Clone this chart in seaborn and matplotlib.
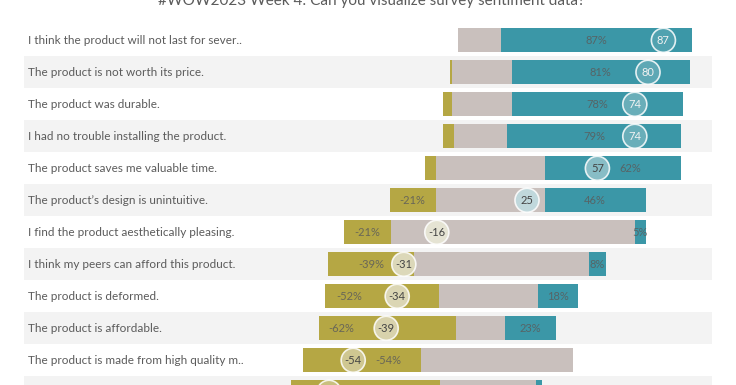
import numpy as np
import pandas as pd
import matplotlib
matplotlib.use('Agg')
import matplotlib.pyplot as plt
import matplotlib.transforms as mtransforms
from matplotlib.colors import LinearSegmentedColormap
import seaborn as sns

# survey data (share of answers in %)
questions = [
    "I think the product will not last for sever..",
    "The product is not worth its price.",
    "The product was durable.",
    "I had no trouble installing the product.",
    "The product saves me valuable time.",
    "The product\u2019s design is unintuitive.",
    "I find the product aesthetically pleasing.",
    "I think my peers can afford this product.",
    "The product is deformed.",
    "The product is affordable.",
    "The product is made from high quality m..",
    "The product is easy to use.",
]
negative = [0, 1, 4, 5, 5, 21, 21, 39, 52, 62, 54, 68]
neutral = [13, 18, 18, 16, 33, 33, 74, 53, 30, 15, 46, 29]
positive = [87, 81, 78, 79, 62, 46, 5, 8, 18, 23, 0, 3]

title = "#WOW2023 Week 4: Can you visualize survey sentiment data?"

df = pd.DataFrame({'question': questions, 'neg': negative, 'neu': neutral, 'pos': positive})
df['score'] = df['pos'] - df['neg']
# left side: half of neutral + negative, right side: neutral + positive
df['left_outer'] = -(df['neg'] + df['neu'] / 2)
df['left_inner'] = -df['neu'] / 2
df['right_outer'] = df['neu'] + df['pos']
df['right_inner'] = df['neu']

OLIVE = '#b5a744'
GREY = '#c9c0bd'
TEAL = '#3b97a7'
BAND = '#f3f3f3'
TXT = '#5b5b5b'

sns.set_theme(style='white')
plt.rcParams['font.family'] = ['Lato', 'DejaVu Sans']

fig = plt.figure(figsize=(7.36, 3.85), dpi=100)
ax = fig.add_axes([0, 0, 1, 1])

# zero sits at x=472px, 2.2px per percent point
px0, ppu = 472, 2.2
ax.set_xlim((0 - px0) / ppu, (736 - px0) / ppu)

# alternating row bands
for i in range(len(df)):
    if i % 2 == 1:
        ax.axhspan(i - 0.5, i + 0.5, xmin=24 / 736, xmax=712 / 736, color=BAND, zorder=0, lw=0)

bw = 0.76
bar_kw = dict(y='question', width=bw, orient='h', ax=ax, saturation=1, linewidth=0, edgecolor='none', zorder=2)
sns.barplot(data=df, x='right_outer', color=TEAL, **bar_kw)
sns.barplot(data=df, x='right_inner', color=GREY, **bar_kw)
sns.barplot(data=df, x='left_outer', color=OLIVE, **bar_kw)
sns.barplot(data=df, x='left_inner', color=GREY, **bar_kw)

ypos = np.arange(len(df))
# row 0 centre at 40.3px, pitch 32px
ybottom = (385 - 40.3) / 32
visible = ypos + 0.3 < ybottom

# score circles
cmap = LinearSegmentedColormap.from_list('sent', [OLIVE, '#eeeeee', TEAL])
fills = [cmap((s + 100) / 200) for s in df['score']]
ax.scatter(df['score'], ypos, s=300, c=fills, edgecolors=(1, 1, 1, 0.85), linewidths=1.2, zorder=4)
for y, s in zip(ypos[visible], df['score'][visible]):
    ax.text(s, y, f"{s}", ha='center', va='center', fontsize=8,
            color='#f2f2f2' if s > 60 else '#444444', zorder=5)

# percentage labels (nudged where they would sit under a circle)
neg_nudge = {8: -15, 9: -21, 10: 12}
pos_nudge = {4: 8}
for i, r in df[visible].iterrows():
    if r['pos'] >= 5:
        x = r['neu'] + r['pos'] / 2 + pos_nudge.get(i, 0)
        ax.text(x, i, f"{r['pos']}%", ha='center', va='center', fontsize=8, color=TXT, alpha=0.85, zorder=3)
    if r['neg'] >= 10:
        x = -(r['neu'] / 2 + r['neg'] / 2) + neg_nudge.get(i, 0)
        ax.text(x, i, f"-{r['neg']}%", ha='center', va='center', fontsize=8, color=TXT, alpha=0.85, zorder=3)

# question labels
trans = mtransforms.blended_transform_factory(fig.transFigure, ax.transData)
for y, q in zip(ypos[visible], np.array(questions)[visible]):
    ax.text(28 / 736, y, q, transform=trans, ha='left', va='center', fontsize=8.5, color=TXT)

ax.set_ylim(ybottom, -40.3 / 32)
ax.axis('off')

fig.text(371 / 736, 1 - 5 / 385, title, ha='center', va='baseline', fontsize=11, color=TXT)

fig.savefig('out.png', dpi=100)
